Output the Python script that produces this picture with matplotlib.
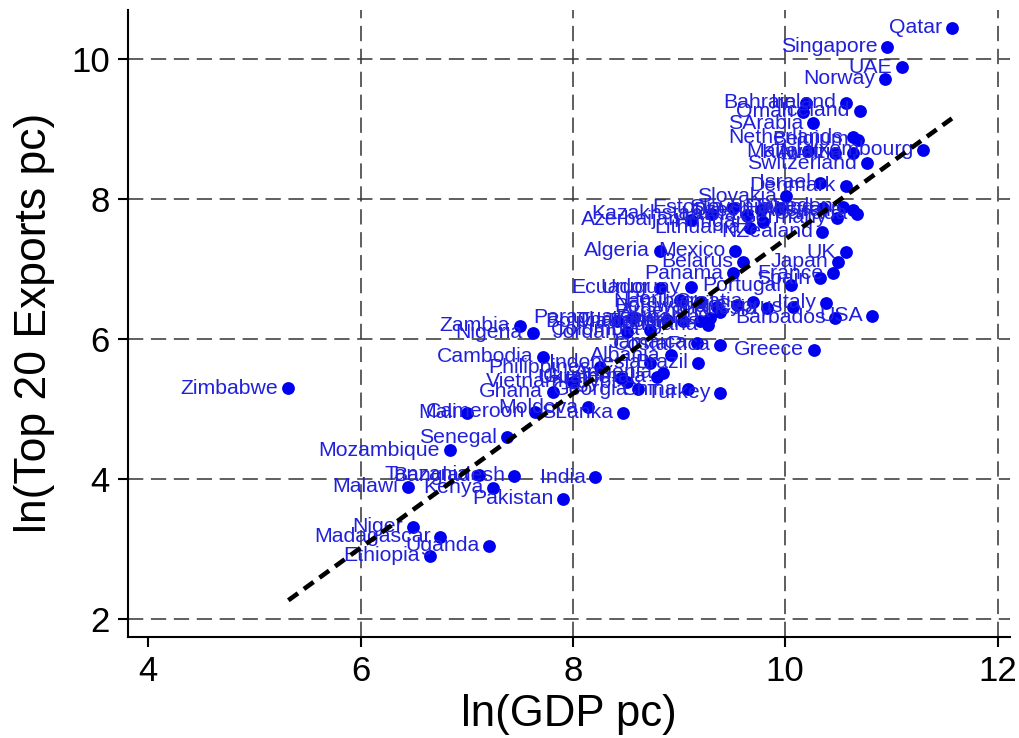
import numpy as np
import matplotlib.pyplot as plt

plt.rcParams['font.family'] = ['Liberation Sans', 'DejaVu Sans']

# country labels, ln(GDP pc), ln(Top 20 Exports pc)
countries = [
    'Qatar', 'Singapore', 'UAE', 'Norway', 'Bahrain', 'Ireland', 'Oman', 'Iceland',
    'SArabia', 'Netherlands', 'Belgium', 'Malta', 'Kuwait', 'Austria', 'Luxembourg',
    'Switzerland', 'Israel', 'Denmark', 'Slovakia', 'Kazakhstan', 'Estonia', 'Czech',
    'Slovenia', 'Finland', 'Sweden', 'Australia', 'Canada', 'Germany', 'Azerbaijan',
    'Latvia', 'Hungary', 'Lithuania', 'NZealand', 'Algeria', 'Mexico', 'Belarus',
    'UK', 'Japan', 'Panama', 'France', 'Spain', 'Portugal', 'Ecuador', 'Uruguay',
    'Peru', 'Croatia', 'Chile', 'Italy', 'Cyprus', 'Russia', 'Barbados', 'USA',
    'Greece', 'Bolivia', 'Paraguay', 'Thailand', 'Jordan', 'Colombia', 'Tunisia',
    'Serbia', 'Bulgaria', 'Romania', 'Argentina', 'Botswana', 'Namibia', 'Jamaica',
    'CostaRica', 'Albania', 'Brazil', 'Philippines', 'Indonesia', 'Armenia',
    'Guatemala', 'Vietnam', 'Ukraine', 'Egypt', 'Ghana', 'Georgia', 'China', 'Turkey',
    'Moldova', 'SLanka', 'Cameroon', 'Mali', 'Zambia', 'Nigeria', 'Cambodia',
    'Zimbabwe', 'Senegal', 'Mozambique', 'Tanzania', 'Bangladesh', 'India', 'Malawi',
    'Kenya', 'Pakistan', 'Niger', 'Madagascar', 'Uganda', 'Ethiopia',
]

ln_gdp = [
    11.57, 10.96, 11.10, 10.94, 10.20, 10.57, 10.17, 10.70,
    10.26, 10.64, 10.69, 10.21, 10.47, 10.64, 11.30,
    10.77, 10.33, 10.57, 10.01, 9.31, 9.51, 9.77,
    9.95, 10.36, 10.54, 10.64, 10.68, 10.49, 9.11,
    9.64, 9.79, 9.67, 10.35, 8.82, 9.53, 9.60,
    10.57, 10.50, 9.51, 10.45, 10.33, 10.05, 8.82, 9.11,
    9.01, 9.70, 9.55, 10.38, 10.07, 9.83, 10.47, 10.82,
    10.27, 8.42, 8.57, 8.89, 8.51, 8.73, 9.04,
    9.20, 9.27, 9.29, 9.39, 9.36, 9.20, 9.17,
    9.39, 8.92, 9.18, 8.26, 8.73, 8.85,
    8.79, 8.00, 8.45, 8.51, 7.81, 8.61, 9.08, 9.39,
    8.14, 8.47, 7.64, 7.00, 7.50, 7.62, 7.72,
    5.32, 7.38, 6.84, 7.12, 7.45, 8.21, 6.45,
    7.25, 7.91, 6.49, 6.75, 7.21, 6.65,
]

ln_exp = [
    10.44, 10.17, 9.88, 9.71, 9.37, 9.37, 9.24, 9.26,
    9.08, 8.88, 8.84, 8.68, 8.66, 8.66, 8.70,
    8.51, 8.23, 8.19, 8.04, 7.79, 7.87, 7.84,
    7.87, 7.87, 7.89, 7.84, 7.79, 7.73, 7.70,
    7.77, 7.67, 7.59, 7.53, 7.26, 7.26, 7.10,
    7.24, 7.10, 6.94, 6.94, 6.87, 6.77, 6.73, 6.74,
    6.56, 6.53, 6.49, 6.52, 6.46, 6.44, 6.30, 6.33,
    5.85, 6.25, 6.30, 6.27, 6.10, 6.13, 6.25,
    6.25, 6.20, 6.30, 6.39, 6.46, 6.53, 5.95,
    5.92, 5.77, 5.66, 5.60, 5.66, 5.52,
    5.46, 5.39, 5.45, 5.38, 5.25, 5.28, 5.28, 5.23,
    5.03, 4.95, 4.96, 4.95, 6.19, 6.09, 5.75,
    5.30, 4.60, 4.41, 4.06, 4.05, 4.03, 3.89,
    3.88, 3.72, 3.32, 3.18, 3.05, 2.91,
]

# fitted line
fit_slope = 1.10
fit_intercept = -3.58

x_ticks = [4, 6, 8, 10, 12]
y_ticks = [2, 4, 6, 8, 10]

fig = plt.figure(figsize=(10.2, 7.38), dpi=100)
ax = fig.add_axes([0.1255, 0.137, 0.865, 0.85])

for v in x_ticks[1:]:
    ax.axvline(v, color='#333333', lw=1.1, ls=(0, (10, 5)), zorder=1)
for v in y_ticks:
    ax.axhline(v, color='#333333', lw=1.1, ls=(0, (10, 5)), zorder=1)

ax.scatter(ln_gdp, ln_exp, s=85, color='#0000f0', zorder=3, linewidths=0)

for name, xv, yv in zip(countries, ln_gdp, ln_exp):
    ax.annotate(name, (xv, yv), xytext=(-7, 0), textcoords='offset points',
                ha='right', va='center', fontsize=15.3, color='#2020dd', zorder=4)

xf = np.array([min(ln_gdp), max(ln_gdp)])
ax.plot(xf, fit_intercept + fit_slope * xf, color='black', lw=3.3,
        ls=(0, (2.6, 1.6)), zorder=5)

ax.set_xlim(3.81, 12.12)
ax.set_ylim(1.75, 10.70)
ax.set_xticks(x_ticks)
ax.set_yticks(y_ticks)
ax.spines['top'].set_visible(False)
ax.spines['right'].set_visible(False)
ax.spines['left'].set_linewidth(1.5)
ax.spines['bottom'].set_linewidth(1.5)
ax.tick_params(axis='both', direction='out', length=7, width=1.5, labelsize=25, pad=6)

ax.set_xlabel('ln(GDP pc)', fontsize=31.5, labelpad=4)
ax.set_ylabel('ln(Top 20 Exports pc)', fontsize=32, labelpad=12)

fig.savefig('out.png', dpi=100)
